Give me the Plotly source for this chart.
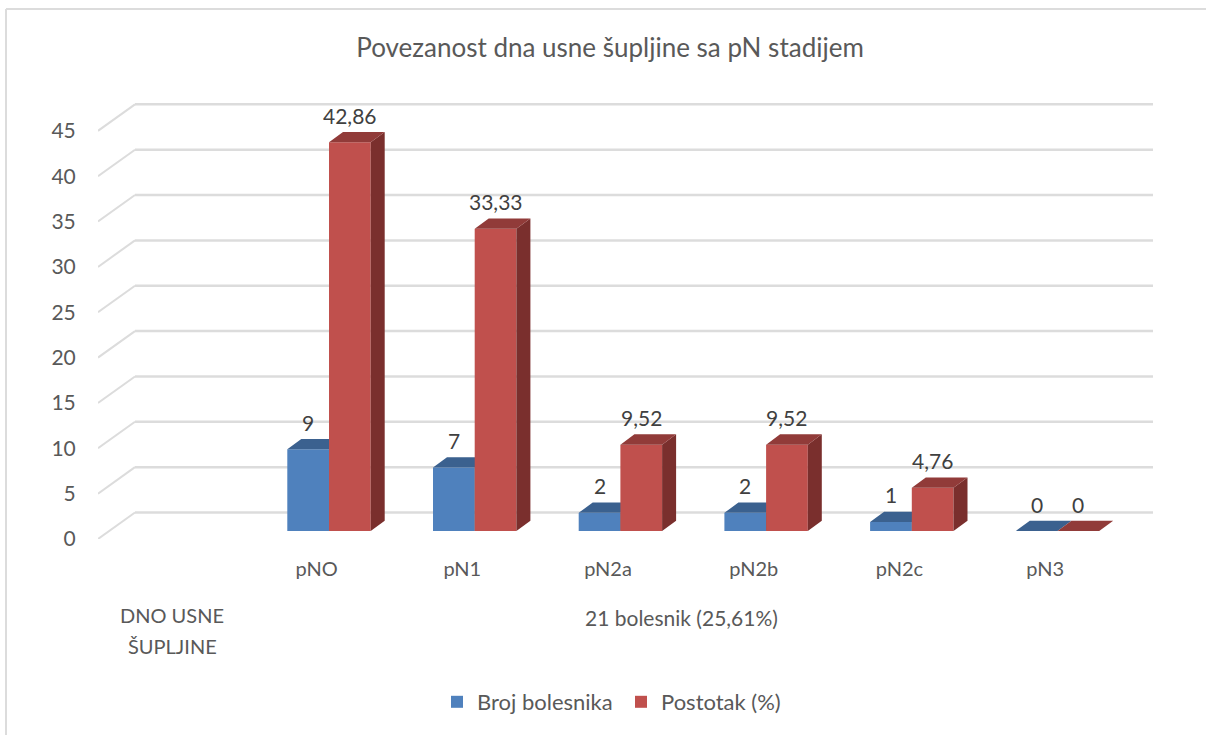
import plotly.graph_objects as go

# ---------- data ----------
categories = ["pNO", "pN1", "pN2a", "pN2b", "pN2c", "pN3"]
broj_bolesnika = [9, 7, 2, 2, 1, 0]
postotak = [42.86, 33.33, 9.52, 9.52, 4.76, 0]
broj_labels = ["9", "7", "2", "2", "1", "0"]
postotak_labels = ["42,86", "33,33", "9,52", "9,52", "4,76", "0"]
y_ticks = [0, 5, 10, 15, 20, 25, 30, 35, 40, 45]
title_text = "Povezanost dna usne šupljine sa pN stadijem"
group_label = "21 bolesnik (25,61%)"
site_lines = ["DNO USNE", "ŠUPLJINE"]

# ---------- geometry (pixels of the page -> axis units) ----------
W, H = 1206, 735
PL, PR, PT, PB = 98, 1153, 100, 539      # plot area
CAT_PX = 145.7                           # one category in px
X0_PX = 329                              # px of the first category's centre
Y_PX = 9.07                              # one y unit in px

x_range = [(PL - X0_PX) / CAT_PX, (PR - X0_PX) / CAT_PX]
y_range = [0, (PB - PT) / Y_PX]
bar_w = 41.7 / CAT_PX
base = 8 / Y_PX
bar_dx, bar_dy = 14 / CAT_PX, 10.3 / Y_PX
wall_dx, wall_dy = 37 / CAT_PX, 26.5 / Y_PX
xs = list(range(len(categories)))

GRID = "#DCDCDC"
TEXT = "#595959"
LABEL = "#404040"
FONT = "Lato"


def faces(centres, values):
    top_x, top_y, side_x, side_y = [], [], [], []
    for c, v in zip(centres, values):
        l, r, t = c - bar_w / 2, c + bar_w / 2, base + v
        top_x += [l, l + bar_dx, r + bar_dx, r, l, None]
        top_y += [t, t + bar_dy, t + bar_dy, t, t, None]
        side_x += [r, r + bar_dx, r + bar_dx, r, r, None]
        side_y += [base, base + bar_dy, t + bar_dy, t, base, None]
    return top_x, top_y, side_x, side_y


def add_series(fig, name, values, centres, front, top, side, xa, ya):
    fig.add_trace(go.Bar(x=centres, y=values, base=base, width=bar_w, name=name,
                         marker=dict(color=front, line=dict(width=0)),
                         xaxis=xa, yaxis=ya, hoverinfo="skip"))
    tx, ty, sx, sy = faces(centres, values)
    for fx, fy, col in ((sx, sy, side), (tx, ty, top)):
        fig.add_trace(go.Scatter(x=fx, y=fy, mode="lines", fill="toself", fillcolor=col,
                                 line=dict(width=0, color=col), showlegend=False,
                                 hoverinfo="skip", xaxis=xa, yaxis=ya))


fig = go.Figure()
blue_c = [i - bar_w / 2 for i in xs]
red_c = [i + bar_w / 2 for i in xs]
add_series(fig, "Broj bolesnika", broj_bolesnika, blue_c, "#4F81BD", "#3B618F", "#2F4D72", "x", "y")
add_series(fig, "Postotak (%)", postotak, red_c, "#C0504D", "#913B39", "#7A2F2D", "x2", "y2")

# wall and back gridlines, below the bars
shapes = []
for v in y_ticks:
    shapes.append(dict(type="line", xref="x", yref="y", layer="below",
                       x0=x_range[0], y0=v, x1=x_range[0] + wall_dx, y1=v + wall_dy,
                       line=dict(color=GRID, width=2)))
    shapes.append(dict(type="line", xref="x", yref="y", layer="below",
                       x0=x_range[0] + wall_dx, y0=v + wall_dy, x1=x_range[1], y1=v + wall_dy,
                       line=dict(color=GRID, width=2.5)))


def px(p):
    return (p - PL) / (PR - PL)


def py(p):
    return (PB - p) / (PB - PT)


# chart frame
shapes.append(dict(type="line", xref="paper", yref="paper", layer="below",
                   x0=px(6), y0=py(9), x1=px(1206), y1=py(9), line=dict(color=GRID, width=2)))
shapes.append(dict(type="line", xref="paper", yref="paper", layer="below",
                   x0=px(6), y0=py(9), x1=px(6), y1=py(735), line=dict(color=GRID, width=2)))

annotations = []
for centres, values, labels in ((blue_c, broj_bolesnika, broj_labels),
                                (red_c, postotak, postotak_labels)):
    for c, v, t in zip(centres, values, labels):
        annotations.append(dict(x=c, y=base + v, xref="x", yref="y", text=t, showarrow=False,
                                xanchor="center", yanchor="middle", yshift=27,
                                font=dict(family=FONT, size=21, color=LABEL)))
annotations.append(dict(x=px(681), y=py(617), xref="paper", yref="paper", text=group_label,
                        showarrow=False, xanchor="center", yanchor="middle",
                        font=dict(family=FONT, size=21, color=TEXT)))
for line, line_y in zip(site_lines, (615, 646)):
    annotations.append(dict(x=px(172), y=py(line_y), xref="paper", yref="paper", text=line,
                            showarrow=False, xanchor="center", yanchor="middle",
                            font=dict(family=FONT, size=20, color=TEXT)))

fig.update_layout(
    width=W, height=H, margin=dict(l=PL, r=W - PR, t=PT, b=H - PB, autoexpand=False),
    paper_bgcolor="white", plot_bgcolor="white",
    title=dict(text=title_text, x=610 / W, xanchor="center", y=1 - 48 / H, yanchor="middle",
               font=dict(family=FONT, size=26, color=TEXT)),
    xaxis=dict(range=x_range, tickvals=[i - 0.085 for i in xs], ticktext=categories,
               showgrid=False, zeroline=False, showline=False, ticks="outside", ticklen=12,
               tickcolor="rgba(0,0,0,0)", tickfont=dict(family=FONT, size=20, color=TEXT)),
    yaxis=dict(range=y_range, tickvals=y_ticks, showgrid=False, zeroline=False, showline=False,
               ticks="outside", ticklen=17, tickcolor="rgba(0,0,0,0)",
               tickfont=dict(family=FONT, size=21, color=TEXT)),
    xaxis2=dict(range=x_range, overlaying="x", visible=False),
    yaxis2=dict(range=y_range, overlaying="y", visible=False),
    shapes=shapes, annotations=annotations, showlegend=True,
    legend=dict(orientation="h", x=px(437), y=py(702), xanchor="left", yanchor="middle",
                font=dict(family=FONT, size=22, color=TEXT), bgcolor="rgba(0,0,0,0)",
                entrywidth=139, entrywidthmode="pixels",
                itemclick=False, itemdoubleclick=False),
)

fig.write_html("out.html", config={"displayModeBar": False},
               post_script="document.body.style.margin='0';document.body.style.overflow='hidden';")
